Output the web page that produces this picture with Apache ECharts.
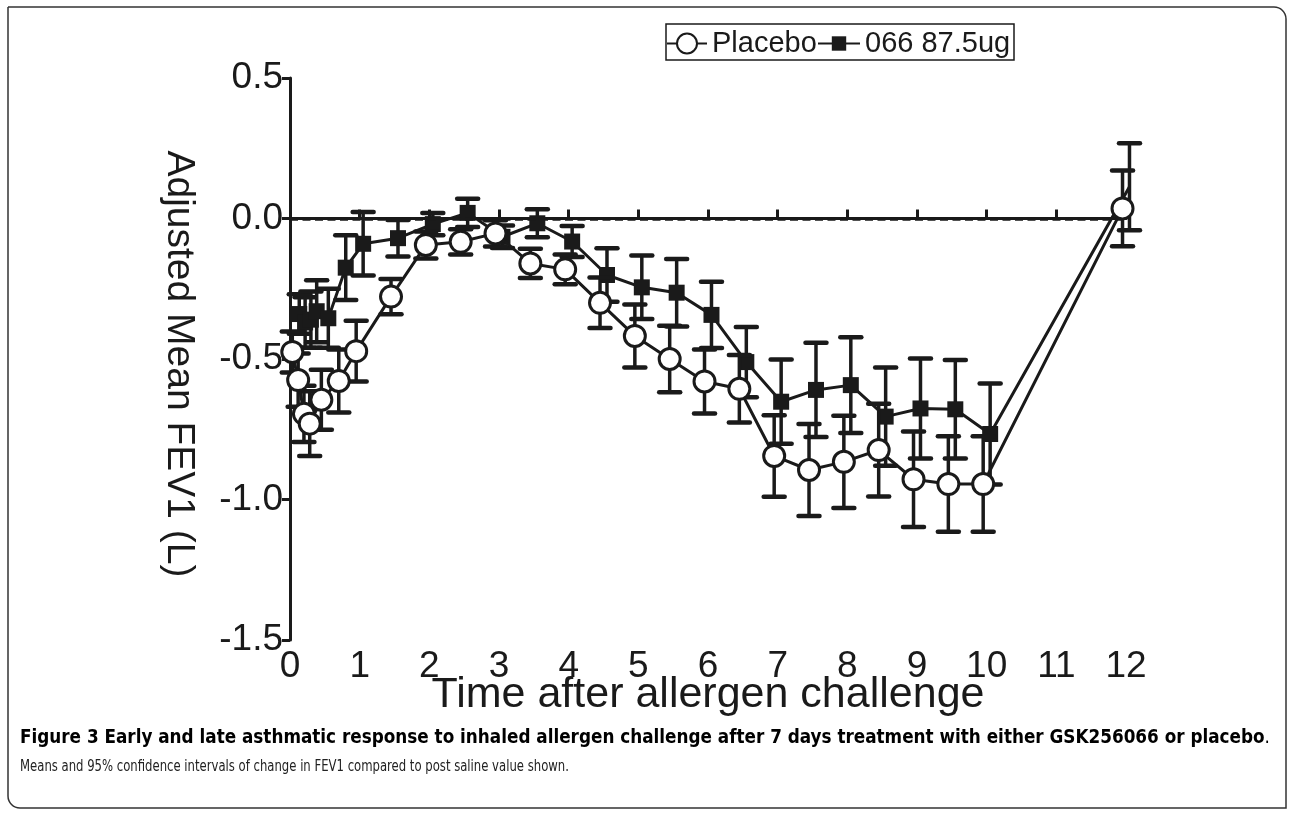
<!DOCTYPE html>
<html>
<head>
<meta charset="utf-8">
<script src="https://cdn.jsdelivr.net/npm/echarts@6/dist/echarts.min.js"></script>
<style>
html,body{margin:0;padding:0;background:#fff;}
#chart{width:1292px;height:814px;}
</style>
</head>
<body>
<div id="chart"></div>
<script>
// ---- data ----
var times = [0.083, 0.167, 0.25, 0.333, 0.5, 0.75, 1, 1.5, 2, 2.5, 3, 3.5, 4, 4.5, 5, 5.5, 6, 6.5, 7, 7.5, 8, 8.5, 9, 9.5, 10, 12];
var placebo = [-0.475, -0.575, -0.695, -0.73, -0.645, -0.578, -0.472, -0.278, -0.094, -0.083, -0.053, -0.16, -0.181, -0.3, -0.418, -0.5, -0.58, -0.606, -0.845, -0.895, -0.866, -0.824, -0.928, -0.945, -0.945, 0.036];
var placeboErr = [0.073, 0.095, 0.1, 0.115, 0.107, 0.112, 0.108, 0.063, 0.048, 0.045, 0.047, 0.052, 0.053, 0.09, 0.112, 0.118, 0.114, 0.12, 0.145, 0.164, 0.164, 0.165, 0.17, 0.17, 0.17, 0.135];
var active = [-0.34, -0.37, -0.36, -0.33, -0.355, -0.175, -0.09, -0.07, -0.02, 0.02, -0.065, -0.017, -0.082, -0.201, -0.245, -0.264, -0.343, -0.511, -0.652, -0.61, -0.593, -0.705, -0.676, -0.679, -0.767, 0.113];
var activeErr = [0.07, 0.09, 0.1, 0.11, 0.105, 0.115, 0.113, 0.065, 0.04, 0.05, 0.04, 0.05, 0.055, 0.095, 0.113, 0.12, 0.118, 0.125, 0.15, 0.168, 0.17, 0.175, 0.178, 0.175, 0.18, 0.155];
var seriesNames = ['Placebo', '066 87.5ug'];
var yTicks = [-1.5, -1.0, -0.5, 0.0, 0.5];
var xTicks = [0, 1, 2, 3, 4, 5, 6, 7, 8, 9, 10, 11, 12];
var xTitle = 'Time after allergen challenge';
var yTitle = 'Adjusted Mean FEV1 (L)';
var captionBold = 'Figure 3 Early and late asthmatic response to inhaled allergen challenge after 7 days treatment with either GSK256066 or placebo';
var captionLine2 = 'Means and 95% confidence intervals of change in FEV1 compared to post saline value shown.';

// horizontal display offset separating the two groups (as in the figure)
var shift = {placebo: -0.05, active: 0.05};

var INK = '#1a1a1a';
var FONT = '"Liberation Sans", Arial, Helvetica, sans-serif';
var CAP_FONT = '"DejaVu Sans Condensed", "Liberation Sans Narrow", sans-serif';

function pts(vals, off) { return times.map(function (t, i) { return [t + off, vals[i]]; }); }
function errData(vals, errs, off) {
  return times.map(function (t, i) { return [t + off, vals[i] - errs[i], vals[i] + errs[i]]; });
}
function errSeries(name, data, z) {
  return {
    type: 'custom', name: name, z: z, silent: true,
    data: data,
    encode: {x: 0, y: [1, 2]},
    renderItem: function (params, api) {
      var x = api.value(0);
      var lo = api.coord([x, api.value(1)]);
      var hi = api.coord([x, api.value(2)]);
      var w = 10.5;
      var capStyle = {stroke: INK, lineWidth: 4.5, lineCap: 'round'};
      return {type: 'group', children: [
        {type: 'line', shape: {x1: lo[0], y1: lo[1], x2: hi[0], y2: hi[1]}, style: {stroke: INK, lineWidth: 3.5}},
        {type: 'line', shape: {x1: lo[0] - w, y1: lo[1], x2: lo[0] + w, y2: lo[1]}, style: capStyle},
        {type: 'line', shape: {x1: hi[0] - w, y1: hi[1], x2: hi[0] + w, y2: hi[1]}, style: capStyle}
      ]};
    }
  };
}

var chart = echarts.init(document.getElementById('chart'));
var option = {
  animation: false,
  backgroundColor: '#fff',
  grid: {left: 290, right: 166, top: 78, bottom: 174, containLabel: false},
  legend: [
    {data: [seriesNames[0]], left: 666, top: 29, itemWidth: 40, itemHeight: 25, padding: 0,
     textStyle: {fontSize: 29, color: INK, fontFamily: FONT}},
    {data: [seriesNames[1]], left: 817, top: 29, itemWidth: 42, itemHeight: 18, padding: 0,
     textStyle: {fontSize: 29, color: INK, fontFamily: FONT}}
  ],
  xAxis: {
    type: 'value', min: 0, max: 12, interval: 1,
    name: xTitle, nameLocation: 'middle', nameGap: 34, nameMoveOverlap: false,
    nameTextStyle: {fontSize: 43, color: INK, fontFamily: FONT},
    axisLine: {lineStyle: {color: INK, width: 3}},
    axisTick: {inside: true, length: 9, lineStyle: {color: INK, width: 3}},
    axisLabel: {fontSize: 37, color: INK, fontFamily: FONT, margin: 8,
      formatter: function (v) { return xTicks.indexOf(v) >= 0 ? String(v) : ''; }},
    splitLine: {show: false}
  },
  yAxis: {
    type: 'value', min: -1.5, max: 0.5, interval: 0.5,
    name: yTitle, nameLocation: 'middle', nameRotate: -90, nameGap: 92, nameMoveOverlap: false,
    nameTextStyle: {fontSize: 39, color: INK, fontFamily: FONT, padding: [0, 0, 0, 10]},
    axisLine: {show: true, lineStyle: {color: INK, width: 3}},
    axisTick: {show: true, length: 8, lineStyle: {color: INK, width: 3}},
    axisLabel: {fontSize: 37, color: INK, fontFamily: FONT, margin: 7,
      formatter: function (v) { return yTicks.indexOf(v) >= 0 ? v.toFixed(1) : ''; }},
    splitLine: {show: false}
  },
  series: [
    errSeries('066 CI', errData(active, activeErr, shift.active), 2),
    {
      type: 'line', name: seriesNames[1], z: 3,
      data: pts(active, shift.active),
      symbol: 'rect', symbolSize: 16,
      lineStyle: {color: INK, width: 3},
      itemStyle: {color: INK, borderColor: INK, borderWidth: 0},
      markLine: {
        silent: true, symbol: 'none', label: {show: false},
        lineStyle: {color: INK, width: 3.5, type: [8, 4.5]},
        data: [{yAxis: 0}]
      }
    },
    errSeries('Placebo CI', errData(placebo, placeboErr, shift.placebo), 4),
    {
      type: 'line', name: seriesNames[0], z: 5,
      data: pts(placebo, shift.placebo),
      symbol: 'circle', symbolSize: 21,
      lineStyle: {color: INK, width: 3},
      itemStyle: {color: '#fff', borderColor: INK, borderWidth: 3}
    }
  ],
  graphic: [
    {type: 'rect', silent: true, z: 0,
     shape: {x: 8, y: 7, width: 1278, height: 801, r: [0, 12, 0, 12]},
     style: {fill: 'none', stroke: '#333', lineWidth: 1.5}},
    {type: 'rect', silent: true, z: 1,
     shape: {x: 666, y: 24, width: 348, height: 36},
     style: {fill: 'none', stroke: INK, lineWidth: 1.5}},
    {type: 'text', silent: true, x: 20, y: 729, scaleX: 0.985,
     style: {
       text: '{b|' + captionBold + '}{r|.}',
       verticalAlign: 'top', align: 'left',
       rich: {
         b: {fontSize: 19, fontWeight: 'bold', fill: '#000', fontFamily: CAP_FONT},
         r: {fontSize: 19, fill: '#000', fontFamily: CAP_FONT}
       }
     }},
    {type: 'text', silent: true, x: 20, y: 759, scaleX: 0.81,
     style: {text: captionLine2, fontSize: 16, fill: '#222', fontFamily: CAP_FONT,
       verticalAlign: 'top', align: 'left'}}
  ]
};
chart.setOption(option);
</script>
</body>
</html>
